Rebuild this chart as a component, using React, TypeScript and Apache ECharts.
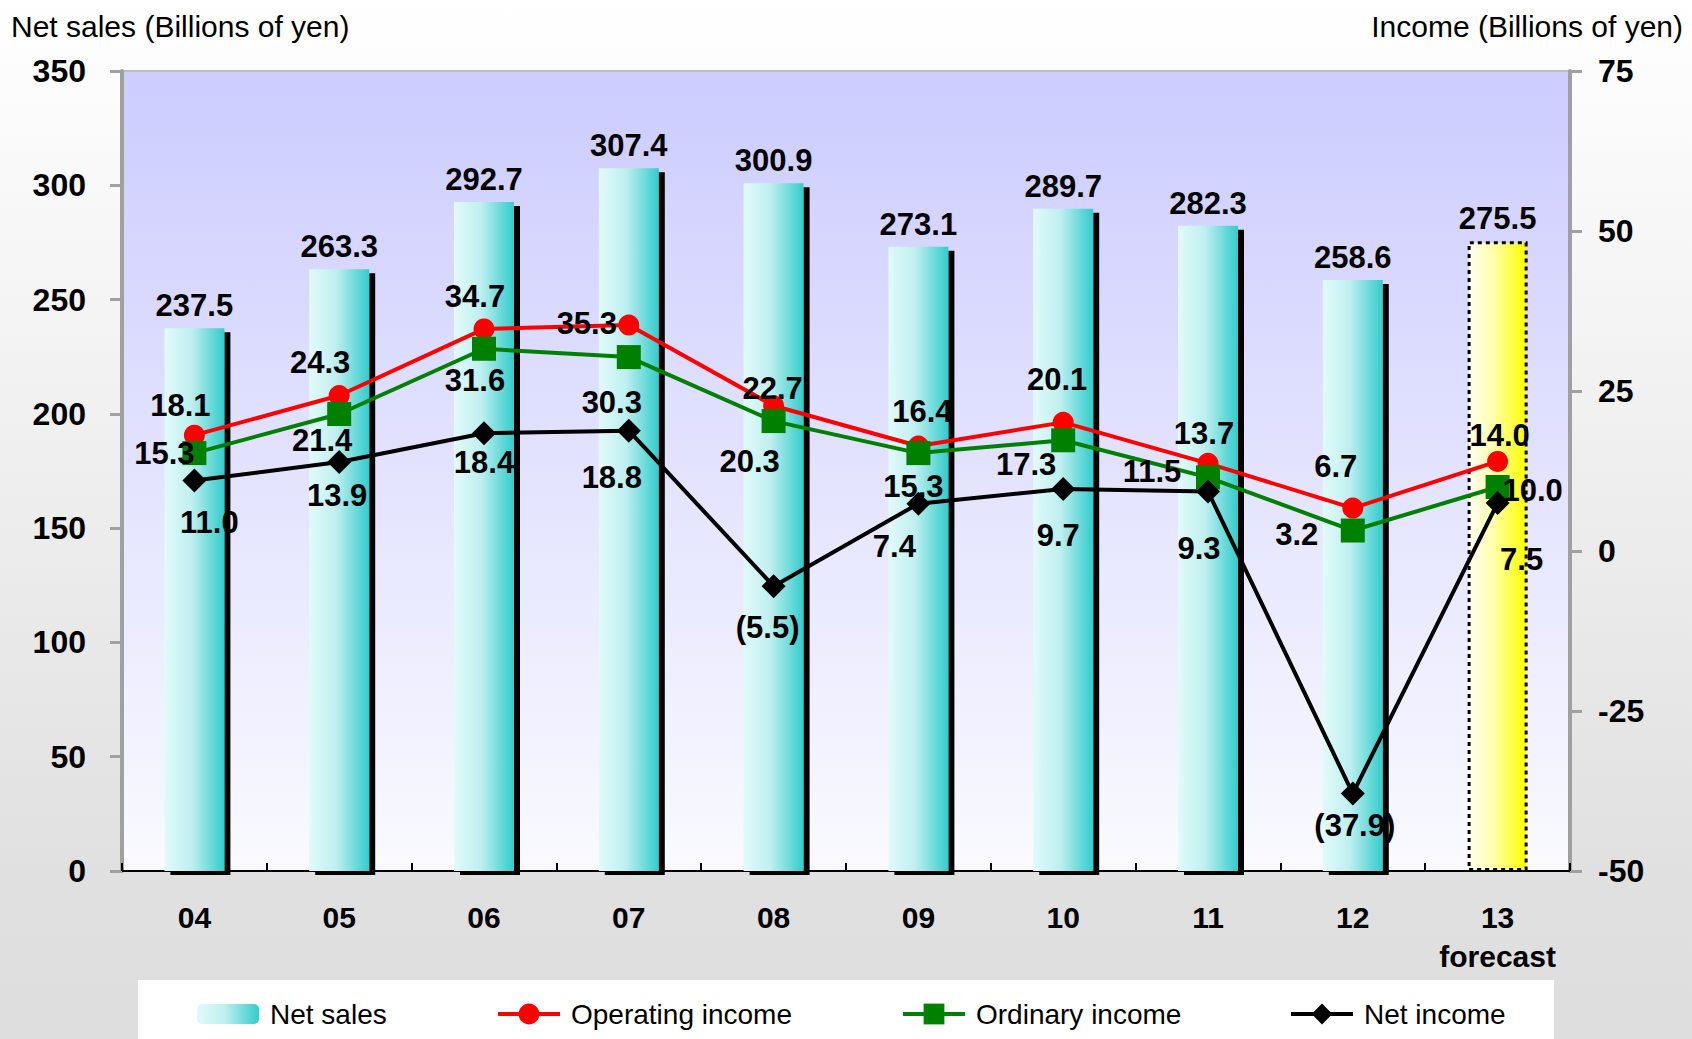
import React, { useEffect, useRef } from 'react';
import * as echarts from 'echarts';

const categories = ['04', '05', '06', '07', '08', '09', '10', '11', '12', '13'];
const forecastCategory = '13';
const forecastNote = 'forecast';
const netSales = [237.5, 263.3, 292.7, 307.4, 300.9, 273.1, 289.7, 282.3, 258.6, 275.5];
const operatingIncome = [18.1, 24.3, 34.7, 35.3, 22.7, 16.4, 20.1, 13.7, 6.7, 14.0];
const ordinaryIncome = [15.3, 21.4, 31.6, 30.3, 20.3, 15.3, 17.3, 11.5, 3.2, 10.0];
const netIncome = [11.0, 13.9, 18.4, 18.8, -5.5, 7.4, 9.7, 9.3, -37.9, 7.5];

// label offsets (layout only)
const opOffsets = [[-14, -30], [-19, -33], [-9, -32], [-42, -2], [-1, -17], [4, -35], [-6, -43], [-4, -30], [-17, -42], [2, -26]];
const ordOffsets = [[-30, 0], [-17, 26], [-9, 32], [-17, 45], [-24, 40], [-5, 33], [-37, 24], [-56, -6], [-56, 4], [35, 3]];
const netOffsets = [[15, 42], [-2, 33], [0, 29], [-17, 47], [-6, 41], [-24, 43], [-5, 47], [-9, 57], [2, 32], [24, 56]];

const FONT = "'Liberation Sans', Arial, Helvetica, sans-serif";

const fmt = (v: number) => (v < 0 ? `(${Math.abs(v).toFixed(1)})` : v.toFixed(1));

function buildOption() {
  const cyan = new echarts.graphic.LinearGradient(0, 0, 1, 0, [
    { offset: 0, color: '#E2FAFA' },
    { offset: 0.45, color: '#BFEFEF' },
    { offset: 1, color: '#33CCCC' },
  ]);
  const yellow = new echarts.graphic.LinearGradient(0, 0, 1, 0, [
    { offset: 0, color: '#FFFFF0' },
    { offset: 0.4, color: '#FFFFB0' },
    { offset: 1, color: '#FFFF00' },
  ]);
  const dataLabel = {
    show: true,
    position: 'inside',
    fontSize: 31,
    fontWeight: 'bold',
    color: '#000',
    fontFamily: FONT,
    textBorderWidth: 0,
  };
  const lineSeries = (
    name: string,
    values: number[],
    offsets: number[][],
    color: string,
    symbol: string,
    size: number
  ) => ({
    type: 'line',
    name,
    yAxisIndex: 1,
    symbol,
    symbolSize: size,
    z: 4,
    lineStyle: { color, width: 4 },
    itemStyle: { color },
    data: values.map((v, i) => ({ value: v, label: { offset: offsets[i] } })),
    label: { ...dataLabel, formatter: (p: any) => fmt(p.value) },
  });
  const legendBase = {
    top: 1000,
    itemWidth: 62,
    itemHeight: 20,
    padding: 0,
    textStyle: { fontSize: 28, color: '#000', fontFamily: FONT, padding: [0, 0, 0, 6] },
    itemStyle: { shadowColor: 'transparent', shadowOffsetX: 0, shadowOffsetY: 0, shadowBlur: 0 },
    lineStyle: { width: 4 },
  };
  const lineLegend = { ...legendBase, top: 1000, itemHeight: 26 };
  return {
    animation: false,
    backgroundColor: new echarts.graphic.LinearGradient(0, 0, 0, 1, [
      { offset: 0, color: '#FFFFFF' },
      { offset: 0.85, color: '#E0E0E0' },
      { offset: 1, color: '#DEDEDE' },
    ]),
    textStyle: { fontFamily: FONT },
    title: [
      {
        text: 'Net sales (Billions of yen)',
        left: 11,
        top: 11,
        padding: 0,
        textStyle: { fontSize: 30, fontWeight: 'normal', color: '#000', fontFamily: FONT },
      },
      {
        text: 'Income (Billions of yen)',
        right: 9,
        top: 11,
        padding: 0,
        textStyle: { fontSize: 30, fontWeight: 'normal', color: '#000', fontFamily: FONT },
      },
    ],
    graphic: [
      {
        type: 'rect',
        shape: { x: 138, y: 980, width: 1416, height: 70 },
        style: { fill: '#FFFFFF' },
        z: 0,
        silent: true,
      },
    ],
    legend: [
      { ...legendBase, left: 197, data: ['Net sales'] },
      { ...lineLegend, left: 496, data: ['Operating income'] },
      { ...lineLegend, left: 901, data: ['Ordinary income'] },
      { ...lineLegend, left: 1289, data: ['Net income'] },
    ],
    grid: {
      left: 122,
      right: 122,
      top: 71,
      bottom: 168,
      show: true,
      borderColor: '#BDBDBD',
      borderWidth: 2,
      backgroundColor: new echarts.graphic.LinearGradient(0, 0, 0, 1, [
        { offset: 0, color: '#CCCCFF' },
        { offset: 1, color: '#FAFAFF' },
      ]),
    },
    xAxis: {
      type: 'category',
      data: categories,
      axisLine: { lineStyle: { color: '#000', width: 2 } },
      axisTick: { show: true, inside: true, length: 8, interval: 0, lineStyle: { color: '#000', width: 2 } },
      axisLabel: {
        interval: 0,
        fontSize: 30,
        fontWeight: 'bold',
        color: '#000',
        fontFamily: FONT,
        margin: 27,
        lineHeight: 39,
        formatter: (v: string) => (v === forecastCategory ? `${v}\n${forecastNote}` : v),
      },
    },
    yAxis: [
      {
        type: 'value',
        min: 0,
        max: 350,
        interval: 50,
        position: 'left',
        splitLine: { show: false },
        axisLine: { show: true, lineStyle: { color: '#A0A0A0', width: 4 } },
        axisTick: { show: true, length: 12, lineStyle: { color: '#A0A0A0', width: 3 } },
        axisLabel: { fontSize: 32, fontWeight: 'bold', color: '#000', fontFamily: FONT, margin: 36 },
      },
      {
        type: 'value',
        min: -50,
        max: 75,
        interval: 25,
        position: 'right',
        splitLine: { show: false },
        axisLine: { show: true, lineStyle: { color: '#A0A0A0', width: 4 } },
        axisTick: { show: true, length: 12, lineStyle: { color: '#A0A0A0', width: 3 } },
        axisLabel: { fontSize: 32, fontWeight: 'bold', color: '#000', fontFamily: FONT, margin: 28 },
      },
    ],
    series: [
      {
        type: 'bar',
        name: 'Net sales',
        yAxisIndex: 0,
        barWidth: 60,
        z: 2,
        itemStyle: {
          color: cyan,
          shadowColor: '#000000',
          shadowOffsetX: 6,
          shadowOffsetY: 4,
          shadowBlur: 0,
        },
        data: netSales.map((v, i) =>
          categories[i] === forecastCategory
            ? {
                value: v,
                itemStyle: {
                  color: yellow,
                  borderColor: '#000',
                  borderWidth: 3,
                  borderType: [4, 4],
                  shadowColor: 'transparent',
                  shadowOffsetX: 0,
                  shadowOffsetY: 0,
                },
              }
            : v
        ),
        label: {
          show: true,
          position: 'top',
          distance: 7,
          fontSize: 31,
          fontWeight: 'bold',
          color: '#000',
          fontFamily: FONT,
          formatter: (p: any) => p.value.toFixed(1),
        },
      },
      lineSeries('Operating income', operatingIncome, opOffsets, '#FF0000', 'circle', 21),
      lineSeries('Ordinary income', ordinaryIncome, ordOffsets, '#008000', 'rect', 24),
      lineSeries('Net income', netIncome, netOffsets, '#000000', 'diamond', 24),
    ],
  };
}

export default function App() {
  const ref = useRef<HTMLDivElement>(null);
  useEffect(() => {
    document.body.style.margin = '0';
    const chart = echarts.init(ref.current!, null, { renderer: 'svg' });
    chart.setOption(buildOption() as any);
    return () => chart.dispose();
  }, []);
  return (
    <div
      ref={ref}
      style={{ position: 'absolute', left: 0, top: 0, width: 1692, height: 1039 }}
    />
  );
}
